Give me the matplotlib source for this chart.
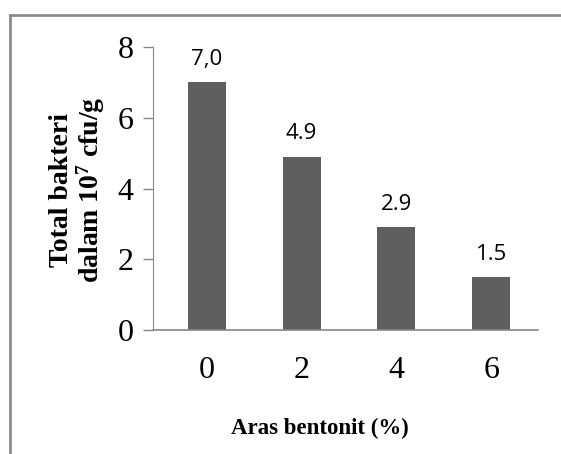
import matplotlib
matplotlib.use("Agg")
import matplotlib.pyplot as plt
from matplotlib.lines import Line2D

plt.rcParams["mathtext.fontset"] = "custom"
plt.rcParams["mathtext.rm"] = "Liberation Serif:bold"
plt.rcParams["mathtext.it"] = "Liberation Serif:bold"
plt.rcParams["mathtext.bf"] = "Liberation Serif:bold"

categories = ["0", "2", "4", "6"]
values = [7.0, 4.9, 2.9, 1.5]
value_labels = ["7,0", "4.9", "2.9", "1.5"]
yticks = [0, 2, 4, 6, 8]

W, H = 561, 454
fig = plt.figure(figsize=(W / 100, H / 100), dpi=100)
ax = fig.add_axes([153 / W, 1 - 330 / H, (537.7 - 153) / W, (330 - 47) / H])

x = list(range(len(categories)))
ax.bar(x, values, width=0.4, color="#5f5f5f", zorder=2)
for xi, v, lab in zip(x, values, value_labels):
    ax.annotate(lab, (xi, v), xytext=(0, 12.5), textcoords="offset points",
                ha="center", va="baseline", fontsize=16, family="Open Sans")

ax.set_xlim(-0.566, 3.49)
ax.set_ylim(0, 8)
ax.set_yticks(yticks)
ax.set_yticklabels([str(t) for t in yticks], family="Liberation Serif", fontsize=23)
ax.set_xticks(x)
ax.set_xticklabels(categories, family="Liberation Serif", fontsize=23)
ax.tick_params(axis="x", length=0, pad=19)
ax.tick_params(axis="y", length=7, width=1, color="#888888", pad=7)

for s in ["top", "right"]:
    ax.spines[s].set_visible(False)
ax.spines["left"].set_color("#888888")
ax.spines["bottom"].set_color("#888888")
ax.spines["bottom"].set_linewidth(1.2)

fig.text(320 / W, 1 - 418 / H, "Aras bentonit (%)", ha="center", va="top",
         family="Liberation Serif", fontweight="bold", fontsize=16.5)
fig.text(78 / W, 1 - 190 / H, "Total bakteri\ndalam 10$^{7}$ cfu/g", rotation=90,
         ha="center", va="center", family="Liberation Serif", fontweight="bold",
         fontsize=20, linespacing=1.0)

# frame
fig.add_artist(Line2D([10 / W, 10 / W], [0, 1 - 15 / H], transform=fig.transFigure,
                      color="#8c8c8c", lw=2))
fig.add_artist(Line2D([10 / W, 1], [1 - 15 / H, 1 - 15 / H], transform=fig.transFigure,
                      color="#8c8c8c", lw=2))

fig.savefig("out.png", dpi=100)
